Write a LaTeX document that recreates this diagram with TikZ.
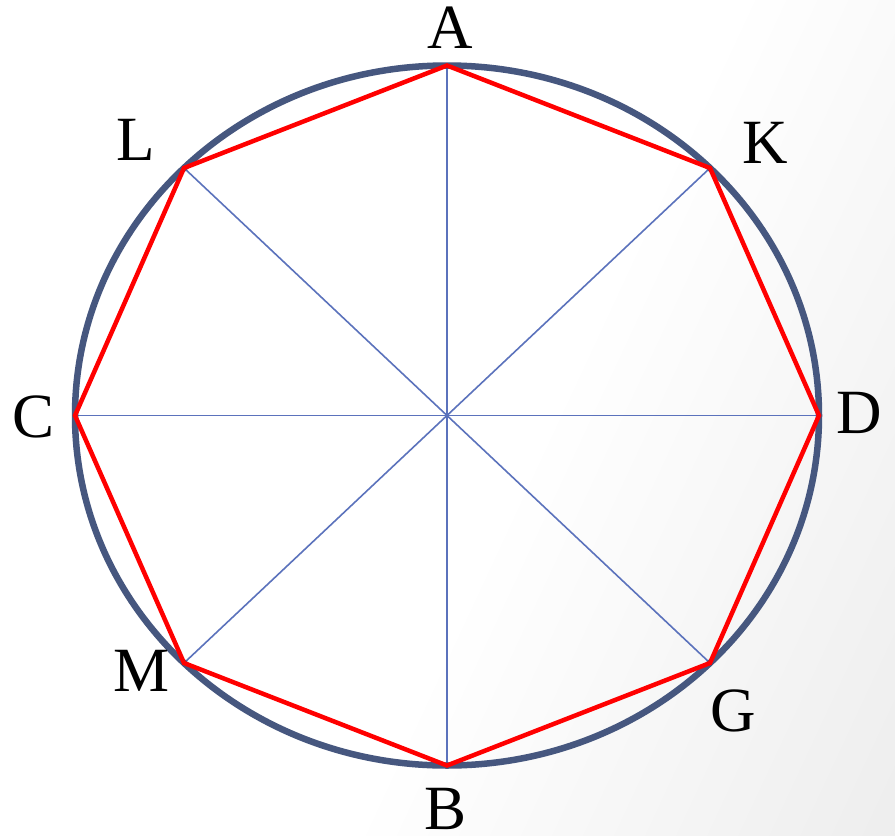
\documentclass[tikz,border=0pt]{standalone}
\usepackage{fontspec}
\setmainfont{Liberation Serif}
\definecolor{rimblue}{HTML}{46577F}
\definecolor{spoke}{HTML}{5B72BC}
\definecolor{polyred}{HTML}{FF0000}
\pgfdeclarehorizontalshading{bgshade}{100bp}{color(0bp)=(white); color(55bp)=(white); color(100bp)=(black!11)}
\tikzset{
  lbl/.style={font=\fontsize{63}{63}\selectfont, inner sep=0pt, text=black},
  rim/.style={draw=rimblue, line width=6.5pt},
  spokeline/.style={draw=spoke, line width=1.6pt},
  poly/.style={draw=polyred, line width=4.5pt, line join=miter},
}
\begin{document}
\begin{tikzpicture}[x=1pt,y=1pt]
\useasboundingbox (0,0) rectangle (895,-836);
\shade[shading=bgshade, shading angle=-25] (0,0) rectangle (895,-836);
\coordinate (O) at (447,-415.5);
\coordinate (A) at (447,-65.5);
\coordinate (K) at (710,-168);
\coordinate (D) at (819,-415.5);
\coordinate (G) at (710,-663);
\coordinate (B) at (447,-765.5);
\coordinate (M) at (184,-663);
\coordinate (C) at (75,-415.5);
\coordinate (L) at (184,-168);
\draw[spokeline] (A) -- (B);
\draw[spokeline] (C) -- (D);
\draw[spokeline] (L) -- (G);
\draw[spokeline] (K) -- (M);
\draw[rim] (O) ellipse [x radius=372, y radius=350];
\draw[poly] (A) -- (K) -- (D) -- (G) -- (B) -- (M) -- (C) -- (L) -- cycle;
\node[lbl] (lA) at (450,-28) {A};
\node[lbl] (lK) at (765,-143) {K};
\node[lbl] (lD) at (859,-413) {D};
\node[lbl] (lG) at (733,-711) {G};
\node[lbl] (lB) at (446,-809) {B};
\node[lbl] (lM) at (142,-671) {M};
\node[lbl] (lC) at (34,-417) {C};
\node[lbl] (lL) at (136,-140) {L};
\end{tikzpicture}
\end{document}
